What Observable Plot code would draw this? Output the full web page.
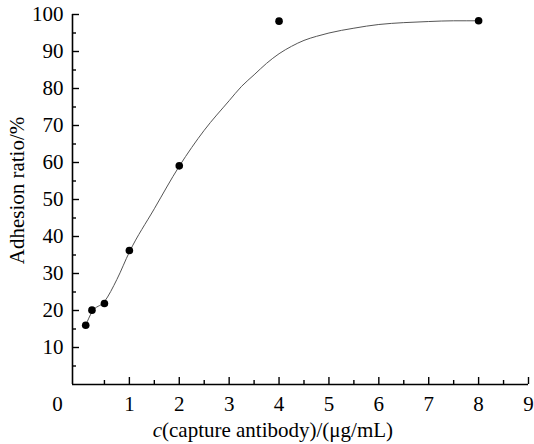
<!DOCTYPE html>
<html><head><meta charset="utf-8">
<script src="https://cdn.jsdelivr.net/npm/d3@7"></script>
<script src="https://cdn.jsdelivr.net/npm/@observablehq/plot@0.6"></script>
<style>body{margin:0;background:#fff}</style>
</head><body><div id="chart"></div>
<script>
// measured data
const concX = [0.125, 0.25, 0.5, 1, 2, 4, 8];
const adhesion = [16.0, 20.1, 21.9, 36.2, 59.1, 98.2, 98.3];
// fitted curve
const fitX = [0.125, 0.25, 0.5, 0.75, 1, 1.5, 2, 2.5, 3, 3.25, 3.5, 3.75, 4, 4.25, 4.5, 4.75, 5, 5.5, 6, 6.5, 7, 7.5, 8];
const fitY = [16.0, 19.6, 22.4, 28.4, 35.8, 47.5, 59.0, 68.7, 76.7, 80.6, 83.7, 86.8, 89.4, 91.4, 93.0, 94.1, 95.0, 96.3, 97.3, 97.8, 98.1, 98.3, 98.3];
const xDomain = [-0.14, 9];
const yDomain = [0, 100];
const majorXTicks = [1, 2, 3, 4, 5, 6, 7, 8, 9];
const minorXTicks = [0.5, 1.5, 2.5, 3.5, 4.5, 5.5, 6.5, 7.5, 8.5];
const originLabel = [0];
const majorYTicks = [10, 20, 30, 40, 50, 60, 70, 80, 90, 100];
const minorYTicks = [5, 15, 25, 35, 45, 55, 65, 75, 85, 95];
const yTitle = "Adhesion ratio/%";
const xTitleItalic = "c";
const xTitleRest = "(capture antibody)/(μg/mL)";

const points = concX.map((x, i) => ({x, y: adhesion[i]}));
const fit = fitX.map((x, i) => ({x, y: fitY[i]}));

const FS = 21;
const FF = "Liberation Serif";
const chart = Plot.plot({
  width: 534,
  height: 444,
  marginLeft: 72,
  marginRight: 6,
  marginTop: 14,
  marginBottom: 60,
  style: {fontFamily: FF, fontSize: FS + "px", background: "white", color: "black"},
  x: {domain: xDomain},
  y: {domain: yDomain},
  marks: [
    Plot.line(fit, {x: "x", y: "y", curve: "monotone-x", stroke: "#555", strokeWidth: 1}),
    Plot.dot(points, {x: "x", y: "y", r: 3.8, fill: "black", stroke: "none"}),
    // axis lines
    Plot.ruleY([yDomain[0]], {stroke: "black", strokeWidth: 1.6}),
    Plot.ruleX([xDomain[0]], {stroke: "black", strokeWidth: 1.6}),
    // x ticks (inward)
    Plot.axisX({ticks: majorXTicks, tickSize: 7, dy: -7, text: null, label: null, strokeWidth: 1.4}),
    Plot.axisX({ticks: minorXTicks, tickSize: 4, dy: -4, text: null, label: null, strokeWidth: 1.4}),
    // x tick labels
    Plot.text(majorXTicks, {x: d => d, text: d => String(d), frameAnchor: "bottom", dy: 12, lineAnchor: "top", fontSize: FS, fill: "black"}),
    Plot.text(originLabel, {x: d => d, text: d => String(d), frameAnchor: "bottom", dx: -22, dy: 12, lineAnchor: "top", fontSize: FS, fill: "black"}),
    // y ticks (inward)
    Plot.axisY({ticks: majorYTicks, tickSize: 7, dx: 7, text: null, label: null, strokeWidth: 1.4}),
    Plot.axisY({ticks: minorYTicks, tickSize: 4, dx: 4, text: null, label: null, strokeWidth: 1.4}),
    // y tick labels
    Plot.text(majorYTicks, {y: d => d, text: d => String(d), frameAnchor: "left", dx: -9, textAnchor: "end", lineAnchor: "middle", fontSize: FS, fill: "black"}),
    // titles
    Plot.text([yTitle], {text: d => d, frameAnchor: "left", rotate: -90, dx: -55, dy: -9, fontSize: FS, textAnchor: "middle", lineAnchor: "middle", fill: "black"}),
    Plot.text([xTitleItalic], {text: d => d, frameAnchor: "bottom-left", dx: 89.5, dy: 46, fontSize: FS, fontStyle: "italic", textAnchor: "end", lineAnchor: "middle", fill: "black"}),
    Plot.text([xTitleRest], {text: d => d, frameAnchor: "bottom-left", dx: 89.5, dy: 46, fontSize: FS, textAnchor: "start", lineAnchor: "middle", fill: "black"})
  ]
});
d3.select(chart).selectAll("text, g").attr("font-family", FF).style("font-family", FF);
document.getElementById("chart").appendChild(chart);
</script>
</body></html>
